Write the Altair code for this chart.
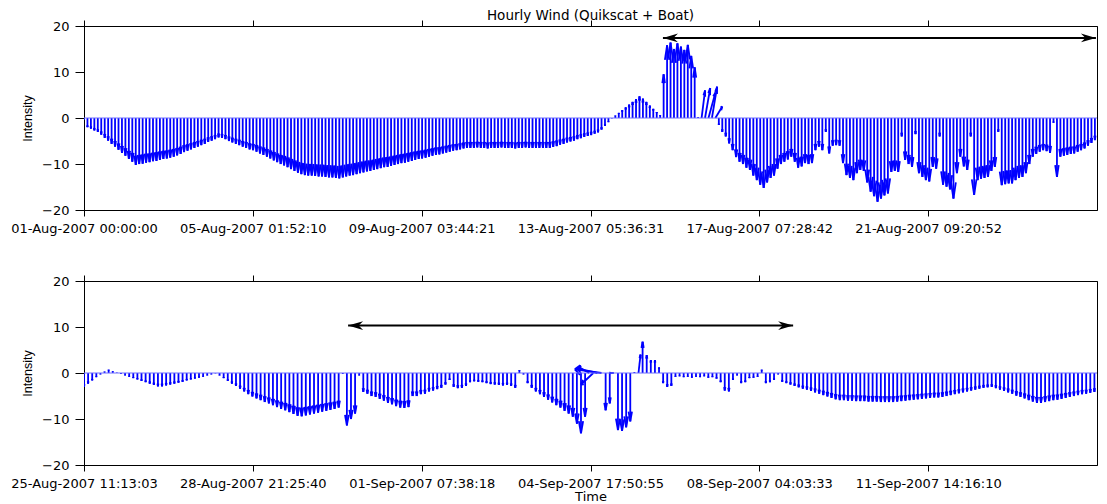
import json
import pandas as pd
import altair as alt

TITLE = "Hourly Wind (Quikscat + Boat)"
Y_TITLE = "Intensity"
X_TITLE = "Time"

STEP_HOURS = 2  # one arrow every 2 hours

TOP_TICK_STEP = 97.86958  # hours between labelled ticks (4 d 01:52:10.5)
TOP_TICK_LABELS = ["01-Aug-2007 00:00:00", "05-Aug-2007 01:52:10", "09-Aug-2007 03:44:21",
                   "13-Aug-2007 05:36:31", "17-Aug-2007 07:28:42", "21-Aug-2007 09:20:52"]
BOTTOM_TICK_STEP = 82.21042  # hours between labelled ticks (3 d 10:12:37.5)
BOTTOM_TICK_LABELS = ["25-Aug-2007 11:13:03", "28-Aug-2007 21:25:40", "01-Sep-2007 07:38:18",
                      "04-Sep-2007 17:50:55", "08-Sep-2007 04:03:33", "11-Sep-2007 14:16:10"]
Y_TICKS = [-20, -10, 0, 10, 20]

# northward component (v) of each arrow, top panel, hours 0, 2, 4, ...
TOP_V = [
    -0.3, -2.0, -2.3, -2.7, -3.0, -3.6, -4.3, -4.9, -5.6, -6.2,
    -6.9, -7.6, -8.2, -8.9, -9.5, -10.2, -10.0, -9.9, -9.7, -9.6,
    -9.4, -9.3, -9.1, -8.9, -8.8, -8.6, -8.4, -8.1, -7.8, -7.4,
    -7.1, -6.8, -6.5, -6.2, -5.9, -5.6, -5.2, -4.9, -4.6, -4.2,
    -4.3, -4.6, -5.0, -5.3, -5.6, -5.9, -6.2, -6.5, -6.8, -7.0,
    -7.3, -7.7, -8.0, -8.4, -8.8, -9.2, -9.6, -10.0, -10.3, -10.7,
    -11.1, -11.5, -11.9, -12.2, -12.4, -12.5, -12.5, -12.6, -12.7, -12.7,
    -12.8, -12.9, -12.9, -13.0, -13.1, -12.9, -12.7, -12.5, -12.4, -12.2,
    -12.0, -11.8, -11.6, -11.5, -11.3, -11.1, -10.9, -10.7, -10.6, -10.4,
    -10.2, -10.0, -9.8, -9.7, -9.5, -9.3, -9.1, -8.9, -8.8, -8.6,
    -8.4, -8.2, -8.0, -7.9, -7.7, -7.5, -7.3, -7.1, -7.0, -6.8,
    -6.6, -6.5, -6.5, -6.5, -6.4, -6.5, -6.5, -6.6, -6.5, -6.5,
    -6.5, -6.4, -6.5, -6.5, -6.5, -6.6, -6.5, -6.5, -6.4, -6.5,
    -6.5, -6.5, -6.5, -6.5, -6.5, -6.5, -6.3, -6.1, -5.8, -5.6,
    -5.3, -5.1, -4.9, -4.6, -4.4, -4.1, -3.9, -3.7, -3.4, -3.1,
    -2.5, -1.7, -0.9, -0.1, 0.5, 1.1, 1.7, 2.3, 2.9, 3.5,
    4.1, 4.7, 4.2, 3.5, 2.7, 2.0, 1.3, 0.6, 9.5, 15.8,
    16.4, 15.0, 16.2, 15.5, 14.8, 15.9, 13.5, 11.0, 0.2, 6.0,
    6.5, 5.5, 6.8, 2.5, -1.5, -3.0, -4.0, -5.5, -7.0, -8.5,
    -9.5, -10.0, -10.8, -11.3, -12.5, -13.5, -14.5, -15.2, -14.0, -13.0,
    -12.5, -11.0, -10.0, -9.5, -9.0, -8.4, -9.5, -10.8, -10.5, -9.8,
    -10.0, -9.8, -7.0, -6.2, -7.0, -3.0, -7.7, -6.0, -5.9, -6.0,
    -9.8, -12.4, -13.0, -13.5, -12.0, -11.3, -11.5, -14.0, -16.0, -17.0,
    -18.2, -17.5, -16.8, -16.4, -11.7, -11.5, -11.7, -4.0, -9.1, -10.0,
    -10.6, -3.5, -12.0, -12.8, -13.5, -13.8, -10.6, -11.0, -4.0, -14.5,
    -14.9, -15.5, -17.5, -12.0, -8.4, -10.5, -11.3, -4.0, -16.7, -13.5,
    -13.2, -13.0, -12.8, -11.5, -10.6, -3.0, -14.6, -14.4, -14.2, -14.2,
    -13.5, -13.0, -12.8, -12.0, -10.0, -8.4, -7.8, -7.3, -7.0, -7.2,
    -7.6, -1.0, -12.8, -8.4, -8.2, -8.0, -7.8, -7.7, -7.3, -7.0,
    -6.6, -6.0, -5.4, -4.8,
]
# eastward component (u) where it is not ~0, keyed by hour
TOP_U = {358: 2.0, 360: 3.0, 362: 4.0, 364: 3.0, 366: 4.0}

BOTTOM_V = [
    -3.0, -2.3, -1.6, -0.9, -0.3, 0.3, 0.7, 0.4, 0.1, -0.2,
    -0.5, -0.8, -1.1, -1.4, -1.7, -2.0, -2.3, -2.6, -2.9, -2.9,
    -2.7, -2.5, -2.3, -2.1, -1.9, -1.6, -1.4, -1.2, -1.0, -0.8,
    -0.5, -0.3, -0.1, -0.5, -1.1, -1.7, -2.3, -2.8, -3.4, -4.0,
    -4.6, -5.1, -5.5, -5.9, -6.3, -6.6, -7.0, -7.4, -7.8, -8.1,
    -8.5, -8.9, -9.3, -9.4, -9.2, -9.0, -8.8, -8.6, -8.4, -8.2,
    -8.0, -7.8, -7.5, -0.2, -11.4, -10.0, -8.8, -0.5, -4.1, -4.5,
    -5.0, -5.2, -5.6, -6.0, -6.5, -6.8, -7.2, -7.5, -7.6, -7.4,
    -5.0, -5.0, -4.6, -4.5, -4.0, -3.8, -3.5, -3.2, -2.5, -1.5,
    -3.0, -3.3, -3.2, -2.8, -2.0, -1.8, -1.9, -2.0, -2.2, -2.4,
    -2.5, -2.6, -2.7, -2.6, -2.8, -3.2, 0.6, -0.3, -2.2, -3.2,
    -4.0, -4.6, -5.2, -5.8, -6.4, -7.0, -7.5, -8.2, -8.8, -9.5,
    -11.0, -13.1, -9.5, 1.3, -2.5, 1.0, 0.8, -8.1, -6.6, 0.0,
    -12.4, -12.6, -11.8, -10.5, 0.2, 4.0, 6.8, 3.9, 2.8, 2.8,
    1.2, -2.2, -3.0, -2.8, -0.8, -0.7, -0.9, -0.8, -1.0, -0.8,
    -0.9, -0.7, -1.0, -0.9, -1.2, -2.0, -3.8, -4.0, -1.5, -0.5,
    -2.2, -2.0, -1.1, -1.0, -0.8, 0.7, -2.2, -2.0, -1.5, -0.3,
    -1.9, -2.2, -2.5, -2.8, -3.1, -3.4, -3.6, -3.9, -4.2, -4.5,
    -4.8, -5.1, -5.4, -5.7, -5.9, -5.9, -6.0, -6.0, -6.1, -6.1,
    -6.1, -6.2, -6.2, -6.2, -6.3, -6.3, -6.3, -6.3, -6.2, -6.1,
    -6.0, -5.9, -5.8, -5.7, -5.6, -5.5, -5.4, -5.3, -5.3, -5.2,
    -5.0, -4.8, -4.6, -4.4, -4.2, -4.0, -3.8, -3.6, -3.4, -3.2,
    -3.1, -3.0, -3.3, -3.6, -3.9, -4.2, -4.5, -4.9, -5.2, -5.5,
    -5.9, -6.2, -6.5, -6.5, -6.3, -6.1, -5.9, -5.8, -5.6, -5.4,
    -5.2, -5.0, -4.8, -4.6, -4.5, -4.3, -4.1,
]
BOTTOM_U = {246: -5.0, 248: -6.0, 250: -10.0, 252: -13.0, 258: -2.0, 270: 1.0}

# black double-headed arrows marking the boat period (hours from panel start, level)
TOP_SPAN = [335.6, 586.6]
TOP_SPAN_LEVEL = 17.4
BOTTOM_SPAN = [128.6, 345.3]
BOTTOM_SPAN_LEVEL = 10.3

LEFT_HEAD = "M0,0 L2,-0.58 L1.4,0 L2,0.58 Z"
RIGHT_HEAD = "M0,0 L-2,-0.58 L-1.4,0 L-2,0.58 Z"

FONT = "DejaVu Sans"
BLUE = "#0000ff"


def feather_segments(vs, us):
    """MATLAB feather arrows: shaft plus two head strokes, in data units."""
    rows = []
    for k, v in enumerate(vs):
        t = k * STEP_HOURS
        u = us.get(t, 0.0)
        tx, ty = t + u, v
        rows.append({"x": t, "y": 0.0, "x2": tx, "y2": ty})
        rows.append({"x": tx, "y": ty, "x2": t + 0.8 * u - 0.08 * v, "y2": 0.8 * v + 0.08 * u})
        rows.append({"x": tx, "y": ty, "x2": t + 0.8 * u + 0.08 * v, "y2": 0.8 * v - 0.08 * u})
    return pd.DataFrame(rows)


def panel(vs, us, tick_step, tick_labels, span, level, x_title=None, title=None):
    n_int = 6
    domain_end = tick_step * n_int
    xscale = alt.Scale(domain=[0, domain_end], nice=False, zero=False)
    yscale = alt.Scale(domain=[-20, 20], nice=False, zero=False)
    ticks = [tick_step * i for i in range(len(tick_labels))]
    label_expr = f"{json.dumps(tick_labels)}[round(datum.value / {tick_step})]"

    xaxis_kw = dict(values=ticks, labelExpr=label_expr, labelOverlap=False, labelFlush=False,
                    tickSize=6, labelPadding=6, labelAngle=0)
    if x_title:
        xaxis = alt.Axis(title=x_title, titlePadding=0, **xaxis_kw)
    else:
        xaxis = alt.Axis(title=None, **xaxis_kw)

    seg = alt.Chart(feather_segments(vs, us)).mark_rule(color=BLUE, strokeWidth=1.8, clip=True).encode(
        x=alt.X("x:Q", scale=xscale, axis=xaxis),
        x2="x2:Q",
        y=alt.Y("y:Q", scale=yscale,
                axis=alt.Axis(values=Y_TICKS, title=Y_TITLE, tickSize=9, labelPadding=6, titlePadding=7)),
        y2="y2:Q",
    )

    base = alt.Chart(pd.DataFrame({"x": [0.0], "x2": [domain_end], "y": [0.0]})).mark_rule(
        color="#6f6fff", strokeWidth=1).encode(
        x=alt.X("x:Q", scale=xscale,
                axis=alt.Axis(orient="top", values=ticks, labels=False, title=None, tickSize=6)),
        x2="x2:Q",
        y=alt.Y("y:Q", scale=yscale, axis=None),
    )

    span_rule = alt.Chart(pd.DataFrame({"x": [span[0]], "x2": [span[1]], "y": [level]})).mark_rule(
        color="black", strokeWidth=2).encode(
        x=alt.X("x:Q", scale=xscale, axis=None),
        x2="x2:Q",
        y=alt.Y("y:Q", scale=yscale, axis=None),
    )
    lhead = alt.Chart(pd.DataFrame({"x": [span[0]], "y": [level]})).mark_point(
        shape=LEFT_HEAD, filled=True, size=225, color="black", opacity=1, strokeWidth=0).encode(
        x=alt.X("x:Q", scale=xscale, axis=None),
        y=alt.Y("y:Q", scale=yscale, axis=None),
    )
    rhead = alt.Chart(pd.DataFrame({"x": [span[1]], "y": [level]})).mark_point(
        shape=RIGHT_HEAD, filled=True, size=225, color="black", opacity=1, strokeWidth=0).encode(
        x=alt.X("x:Q", scale=xscale, axis=None),
        y=alt.Y("y:Q", scale=yscale, axis=None),
    )

    layer = alt.layer(seg, base, span_rule, lhead, rhead).resolve_axis(x="independent", y="independent")
    props = dict(width=1013, height=184)
    if title:
        props["title"] = alt.TitleParams(text=title, font=FONT, fontSize=13.5, fontWeight="normal",
                                         anchor="middle", frame="group", offset=-3, color="black")
    return layer.properties(**props)


top = panel(TOP_V, TOP_U, TOP_TICK_STEP, TOP_TICK_LABELS, TOP_SPAN, TOP_SPAN_LEVEL, title=TITLE)
bottom = panel(BOTTOM_V, BOTTOM_U, BOTTOM_TICK_STEP, BOTTOM_TICK_LABELS, BOTTOM_SPAN, BOTTOM_SPAN_LEVEL,
               x_title=X_TITLE)

chart = alt.vconcat(top, bottom, spacing=38).properties(
    padding={"left": 2, "top": 0, "right": 0, "bottom": 0},
    background="white",
).configure_view(stroke="black", strokeWidth=1).configure_axis(
    grid=False,
    domainColor="black",
    tickColor="black",
    labelColor="black",
    titleColor="black",
    labelFont=FONT,
    labelFontSize=13,
    titleFont=FONT,
    titleFontSize=13,
    titleFontWeight="normal",
).configure_axisY(titleFont="Liberation Sans", titleFontSize=12.5)

chart.save("out.html", embed_options={"renderer": "svg", "actions": False})
